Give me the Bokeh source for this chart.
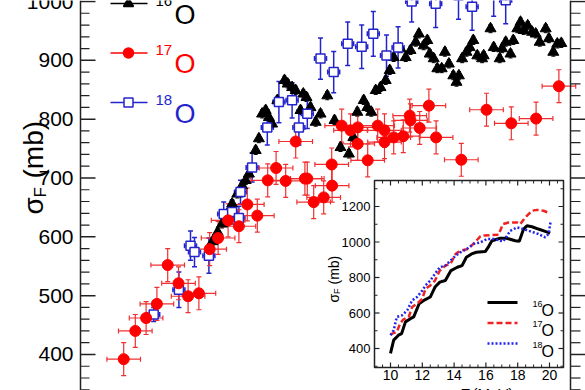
import numpy as np
from bokeh.plotting import figure
from bokeh.models import Range1d, Whisker, TeeHead, ColumnDataSource, Span
from bokeh.core.properties import value
from bokeh.embed import file_html
from bokeh.resources import INLINE

# ---------------- main data (E in MeV, sigma_F in mb) ----------------
o16_e = [12.10, 12.23, 12.34, 12.47, 12.59, 12.72, 12.84, 12.93, 13.01, 13.18, 13.26, 13.34, 13.43,
         13.51, 13.59, 13.72, 13.90, 13.98, 14.09, 14.18, 14.30, 14.37, 14.45, 14.55, 14.68, 14.80,
         14.97, 15.15, 15.30, 15.51, 15.62, 15.72, 15.88, 15.97, 16.07, 16.18, 16.30, 16.43, 16.53,
         16.63, 16.80, 16.93, 17.05, 17.18, 17.26, 17.38, 17.47, 17.53, 17.63, 17.72, 17.83, 17.91,
         18.01, 18.12, 18.20, 18.26, 18.34, 18.45, 18.53, 18.62, 18.72, 18.84, 18.88, 19.05, 19.13,
         19.28, 19.34, 19.43, 19.55, 19.62, 19.72, 19.80, 19.88, 19.98, 20.09, 20.18, 20.28, 20.43,
         20.51, 20.62, 20.72, 20.82]
o16_sig = [592, 608, 622, 639, 656, 673, 687, 696, 707, 747, 767, 809, 815,
           803, 792, 832, 866, 860, 854, 849, 815, 843, 837, 820, 795, 809,
           840, 798, 752, 741, 769, 812, 832, 820, 812, 849, 854, 866, 883,
           905, 920, 905, 917, 931, 945, 925, 934, 911, 903, 886, 886, 914,
           894, 874, 863, 874, 903, 914, 922, 934, 908, 903, 908, 954, 922,
           903, 920, 931, 911, 934, 954, 965, 951, 959, 948, 945, 931, 954,
           937, 914, 928, 929]
o16_dsig = 7.0

o17_e = [9.88, 10.17, 10.44, 10.71, 10.98, 11.25, 11.49, 11.76, 12.03, 12.24, 12.49, 12.76, 12.97,
         13.22, 13.48, 13.69, 13.93, 14.18, 14.41, 14.47, 14.63, 14.88, 15.08, 15.09, 15.33, 15.55,
         15.73, 15.73, 15.98, 16.23, 16.40, 16.40, 16.63, 16.87, 17.03, 17.05, 17.28, 17.51, 17.69,
         18.32, 18.95, 19.57, 20.19, 20.76]
o17_sig = [392, 440, 462, 486, 552, 521, 499, 504, 579, 598, 628, 618, 655,
           636, 696, 717, 695, 762, 699, 699, 659, 667, 723, 687, 789, 781,
           786, 758, 730, 789, 781, 761, 769, 771, 806, 798, 785, 823, 769,
           731, 816, 793, 801, 856]
o17_de = 0.42
o17_dsig = 28.0

o18_e = [10.63, 11.26, 11.55, 11.65, 12.01, 12.38, 12.59, 12.76, 12.80, 13.09, 13.47, 13.76, 14.09,
         14.26, 14.47, 14.80, 15.13, 15.48, 15.83, 16.12, 16.45, 16.74, 17.08, 17.68, 18.25, 18.59,
         19.13, 19.43]
o18_sig = [468, 510, 585, 574, 568, 639, 642, 632, 676, 718, 786, 829, 832,
           786, 809, 903, 880, 928, 923, 945, 908, 922, 1000, 996, 1010, 991,
           1015, 1002]
o18_dsig = [12, 30, 25, 25, 30, 20, 20, 20, 20, 25, 30, 35, 30,
            30, 25, 35, 35, 37, 37, 38, 35, 35, 35, 40, 40, 40,
            40, 40]
o18_de = 0.15

main_yticks = [400, 500, 600, 700, 800, 900, 1000]

# ---------------- inset: calculations ----------------
calc16_e = [10.0, 10.2, 10.5, 10.7, 10.94, 11.25, 11.46, 11.8, 12.1, 12.5, 12.8, 13.1, 13.45, 13.8,
            14.2, 14.5, 14.77, 15.1, 15.4, 15.96, 16.17, 16.38, 16.9, 17.3, 17.85, 18.1, 18.37,
            18.58, 18.9, 19.3, 19.73, 20.04]
calc16_sig = [372, 447, 475, 484, 550, 568, 578, 652, 671, 690, 746, 774, 783, 839,
              858, 867, 914, 933, 942, 946, 974, 1007, 1021, 1021, 1007, 1004, 1073,
              1091, 1086, 1073, 1060, 1050]
calc17_e = [10.0, 10.1, 10.4, 10.6, 10.8, 11.15, 11.36, 11.67, 12.0, 12.2, 12.5, 12.8, 13.1, 13.45,
            13.77, 14.1, 14.4, 14.9, 15.4, 15.65, 15.75, 16.4, 16.8, 17.07, 17.43, 17.95, 18.16,
            18.47, 18.9, 19.2, 19.62, 20.04]
calc17_sig = [475, 484, 493, 540, 563, 578, 634, 652, 680, 736, 755, 783, 839, 867,
              877, 933, 951, 961, 1007, 1032, 1036, 1039, 1041, 1101, 1110, 1110, 1101,
              1138, 1176, 1181, 1176, 1161]
calc18_e = [10.0, 10.2, 10.4, 10.73, 11.05, 11.36, 11.67, 12.0, 12.2, 12.5, 12.8, 13.1, 13.45, 13.77,
            14.1, 14.4, 14.8, 15.23, 15.65, 16.07, 16.5, 16.9, 17.1, 17.53, 17.95, 18.37, 18.8,
            19.3, 19.73, 19.94, 20.08]
calc18_sig = [475, 503, 578, 587, 615, 671, 690, 727, 755, 783, 821, 858, 867, 895,
              923, 942, 961, 989, 998, 1017, 1017, 1007, 1004, 1063, 1082, 1073, 1060,
              1045, 1026, 1045, 1120]

inset_xticks = [10, 12, 14, 16, 18, 20]
inset_yticks = [400, 600, 800, 1000, 1200]
isotopes = ["16", "17", "18"]

FONT = "Liberation Sans"
RED = "#ff0000"
EBRED = "#f03030"
BLUE = "#2424cc"
BLACK = "#000000"
AX = "#222222"

# ---------------- layout / coordinate helpers (page pixels) ----------------
W, H = 585, 390
X0 = 8.8 - 80 / 40.0
X1 = 8.8 + (W - 80) / 40.0
Y1 = 1000 + 1 / 0.5883
Y0 = Y1 - H / 0.5883


def mx(px):
    return 8.8 + (px - 80) / 40.0


def my(py):
    return Y1 - py / 0.5883


def ix(px):
    return 10 + (px - 390) / 15.9


def iy(py):
    return 400 + (348 - py) / 0.1775


p = figure(width=W, height=H, output_backend="svg", toolbar_location=None,
           x_axis_location=None, y_axis_location=None,
           x_range=Range1d(X0, X1), y_range=Range1d(Y0, Y1),
           min_border_left=0, min_border_right=0, min_border_top=0, min_border_bottom=0)
p.outline_line_color = None
p.grid.visible = False
p.background_fill_color = "white"
p.border_fill_color = "white"
p.extra_x_ranges = {"ix": Range1d(ix(0), ix(W))}
p.extra_y_ranges = {"iy": Range1d(iy(H), iy(0))}

# ---- left axis (drawn by hand, ticks inward) ----
p.add_layout(Span(location=mx(80), dimension="height", line_color=AX, line_width=1.5))
lminor = [v for v in range(340, 1010, 20) if v % 100]
nM = len(main_yticks)
p.segment(x0=[mx(80)] * nM, x1=[mx(95)] * nM, y0=main_yticks, y1=main_yticks,
          line_color=AX, line_width=1.5)
p.segment(x0=[mx(80)] * len(lminor), x1=[mx(89)] * len(lminor), y0=lminor, y1=lminor,
          line_color=AX, line_width=1.2)
p.text(x=[mx(73)] * nM, y=main_yticks, text=[str(v) for v in main_yticks],
       text_font=value(FONT), text_font_size=value("21px"), text_color=BLACK,
       text_align="right", text_baseline="middle")

# ---- right axis line with outward ticks ----
p.add_layout(Span(location=mx(570), dimension="height", line_color=AX, line_width=1.5))
p.segment(x0=[mx(570)] * nM, x1=[mx(585)] * nM, y0=main_yticks, y1=main_yticks,
          line_color=AX, line_width=1.5)
p.segment(x0=[mx(570)] * len(lminor), x1=[mx(580)] * len(lminor), y0=lminor, y1=lminor,
          line_color=AX, line_width=1.2)


def tee(color, size, lw):
    return TeeHead(size=size, line_color=color, line_width=lw)


# ---- 16O ----
s16 = ColumnDataSource(dict(x=o16_e, y=o16_sig,
                            lo=[s - o16_dsig for s in o16_sig], hi=[s + o16_dsig for s in o16_sig]))
p.add_layout(Whisker(source=s16, base="x", lower="lo", upper="hi", dimension="height",
                     line_color=BLACK, line_width=1,
                     upper_head=tee(BLACK, 4, 1), lower_head=tee(BLACK, 4, 1)))
p.scatter("x", "y", source=s16, marker="triangle", size=11, color=BLACK)

# ---- 18O ----
s18 = ColumnDataSource(dict(x=o18_e, y=o18_sig,
                            lo=[s - d for s, d in zip(o18_sig, o18_dsig)],
                            hi=[s + d for s, d in zip(o18_sig, o18_dsig)],
                            xl=[e - o18_de for e in o18_e], xh=[e + o18_de for e in o18_e]))
p.add_layout(Whisker(source=s18, base="x", lower="lo", upper="hi", dimension="height",
                     line_color=BLUE, line_width=1.5,
                     upper_head=tee(BLUE, 5, 1.5), lower_head=tee(BLUE, 5, 1.5)))
p.add_layout(Whisker(source=s18, base="y", lower="xl", upper="xh", dimension="width",
                     line_color=BLUE, line_width=1.5,
                     upper_head=tee(BLUE, 5, 1.5), lower_head=tee(BLUE, 5, 1.5)))
p.scatter("x", "y", source=s18, marker="square", size=9, fill_color="white",
          line_color=BLUE, line_width=1.5)

# ---- 17O ----
s17 = ColumnDataSource(dict(x=o17_e, y=o17_sig,
                            lo=[s - o17_dsig for s in o17_sig], hi=[s + o17_dsig for s in o17_sig],
                            xl=[e - o17_de for e in o17_e], xh=[e + o17_de for e in o17_e]))
p.add_layout(Whisker(source=s17, base="x", lower="lo", upper="hi", dimension="height",
                     line_color=EBRED, line_width=1.2,
                     upper_head=tee(EBRED, 5, 1.2), lower_head=tee(EBRED, 5, 1.2)))
p.add_layout(Whisker(source=s17, base="y", lower="xl", upper="xh", dimension="width",
                     line_color=EBRED, line_width=1.2,
                     upper_head=tee(EBRED, 5, 1.2), lower_head=tee(EBRED, 5, 1.2)))
p.scatter("x", "y", source=s17, marker="circle", size=11, color=RED)

# ---- main legend ----
leg_colors = [BLACK, RED, BLUE]
leg_markers = ["triangle", "circle", "square"]
leg_fill = [BLACK, RED, "white"]
for k in range(3):
    ly = 3 + 49.5 * k
    p.segment(x0=[mx(110)], x1=[mx(147)], y0=[my(ly)], y1=[my(ly)],
              line_color=leg_colors[k], line_width=1.5)
    p.scatter(x=[mx(128)], y=[my(ly)], marker=leg_markers[k], size=10 if k != 2 else 9,
              fill_color=leg_fill[k], line_color=leg_colors[k], line_width=1.5)
    p.text(x=[mx(155)], y=[my(ly - 3)], text=[isotopes[k]], text_color=leg_colors[k],
           text_font=value(FONT), text_font_size=value("15px"),
           text_align="left", text_baseline="alphabetic")
    p.text(x=[mx(174)], y=[my(ly + 11)], text=["O"], text_color=leg_colors[k],
           text_font=value(FONT), text_font_size=value("27px"),
           text_align="left", text_baseline="alphabetic")

# ---- main y label (sigma_F (mb)), rotated ----
p.text(x=[mx(33)], y=[my(214)], text=["σ"], angle=np.pi / 2, text_font=value(FONT),
       text_font_size=value("28px"), text_color=BLACK, text_align="left", text_baseline="alphabetic")
p.text(x=[mx(40)], y=[my(197)], text=["F"], angle=np.pi / 2, text_font=value(FONT),
       text_font_size=value("17px"), text_color=BLACK, text_align="left", text_baseline="alphabetic")
p.text(x=[mx(33)], y=[my(178)], text=["(mb)"], angle=np.pi / 2, text_font=value(FONT),
       text_font_size=value("28px"), text_color=BLACK, text_align="left", text_baseline="alphabetic")

# ---------------- inset ----------------
IR = dict(x_range_name="ix", y_range_name="iy")
fl, fr, fb, ft = ix(374), ix(563), iy(367), iy(180)
p.quad(left=[fl], right=[fr], bottom=[fb], top=[ft], fill_color="white",
       line_color=AX, line_width=1.5, **IR)

p.line(calc16_e, calc16_sig, line_color=BLACK, line_width=3, **IR)
p.line(calc17_e, calc17_sig, line_color="#ee2222", line_width=2.5, line_dash="6 3", **IR)
p.line(calc18_e, calc18_sig, line_color="#2222ee", line_width=2.5, line_dash="2 2", **IR)

# inset ticks
dx5, dy5 = 5 / 15.9, 5 / 0.1775
dx3, dy3 = 3 / 15.9, 3 / 0.1775
xmin = [v / 2 for v in range(19, 42) if v % 4]
ymin = [v for v in range(300, 1400, 100) if v % 200]
n = len(inset_xticks)
m = len(inset_yticks)
p.segment(x0=inset_xticks, x1=inset_xticks, y0=[fb] * n, y1=[fb + dy5] * n, line_color=AX, line_width=1.2, **IR)
p.segment(x0=inset_xticks, x1=inset_xticks, y0=[ft] * n, y1=[ft - dy5] * n, line_color=AX, line_width=1.2, **IR)
p.segment(x0=xmin, x1=xmin, y0=[fb] * len(xmin), y1=[fb + dy3] * len(xmin), line_color=AX, line_width=1, **IR)
p.segment(x0=xmin, x1=xmin, y0=[ft] * len(xmin), y1=[ft - dy3] * len(xmin), line_color=AX, line_width=1, **IR)
p.segment(x0=[fl] * m, x1=[fl + dx5] * m, y0=inset_yticks, y1=inset_yticks, line_color=AX, line_width=1.2, **IR)
p.segment(x0=[fr] * m, x1=[fr - dx5] * m, y0=inset_yticks, y1=inset_yticks, line_color=AX, line_width=1.2, **IR)
p.segment(x0=[fl] * len(ymin), x1=[fl + dx3] * len(ymin), y0=ymin, y1=ymin, line_color=AX, line_width=1, **IR)
p.segment(x0=[fr] * len(ymin), x1=[fr - dx3] * len(ymin), y0=ymin, y1=ymin, line_color=AX, line_width=1, **IR)

# inset tick labels
p.text(x=inset_xticks, y=[iy(369)] * n, text=[str(v) for v in inset_xticks],
       text_font=value(FONT), text_font_size=value("14px"), text_color=BLACK,
       text_align="center", text_baseline="top", **IR)
p.text(x=[ix(370)] * m, y=inset_yticks, text=[str(v) for v in inset_yticks],
       text_font=value(FONT), text_font_size=value("13px"), text_color=BLACK,
       text_align="right", text_baseline="middle", **IR)

# inset y label
p.text(x=[ix(333)], y=[iy(302)], text=["σ"], angle=np.pi / 2, text_font=value(FONT),
       text_font_size=value("14px"), text_color=BLACK, text_align="left", text_baseline="alphabetic", **IR)
p.text(x=[ix(336.5)], y=[iy(293.5)], text=["F"], angle=np.pi / 2, text_font=value(FONT),
       text_font_size=value("9px"), text_color=BLACK, text_align="left", text_baseline="alphabetic", **IR)
p.text(x=[ix(333)], y=[iy(284)], text=["(mb)"], angle=np.pi / 2, text_font=value(FONT),
       text_font_size=value("14px"), text_color=BLACK, text_align="left", text_baseline="alphabetic", **IR)

# inset x label (mostly below the visible area, as in the reference)
p.text(x=[ix(470)], y=[iy(384)], text=["E"], text_font=value(FONT),
       text_font_size=value("15px"), text_color=BLACK, text_align="right",
       text_baseline="top", **IR)
p.text(x=[ix(472)], y=[iy(384)], text=["(MeV)"], text_font=value(FONT),
       text_font_size=value("15px"), text_color=BLACK, text_align="left",
       text_baseline="top", **IR)

# inset legend
ileg_colors = [BLACK, "#ee2222", "#2222ee"]
ileg_dash = ["solid", "6 3", "2 2"]
ileg_w = [3, 2.5, 2.5]
for k in range(3):
    ly = 302 + 20.5 * k
    p.line(x=[ix(487), ix(517)], y=[iy(ly), iy(ly)], line_color=ileg_colors[k],
           line_width=ileg_w[k], line_dash=ileg_dash[k], **IR)
    p.text(x=[ix(532)], y=[iy(ly + 1)], text=[isotopes[k]], text_font=value(FONT),
           text_font_size=value("9px"), text_color=BLACK, text_align="left",
           text_baseline="alphabetic", **IR)
    p.text(x=[ix(541)], y=[iy(ly + 7.5)], text=["O"], text_font=value(FONT),
           text_font_size=value("16px"), text_color=BLACK, text_align="left",
           text_baseline="alphabetic", **IR)

open("out.html", "w").write(file_html(p, INLINE))
